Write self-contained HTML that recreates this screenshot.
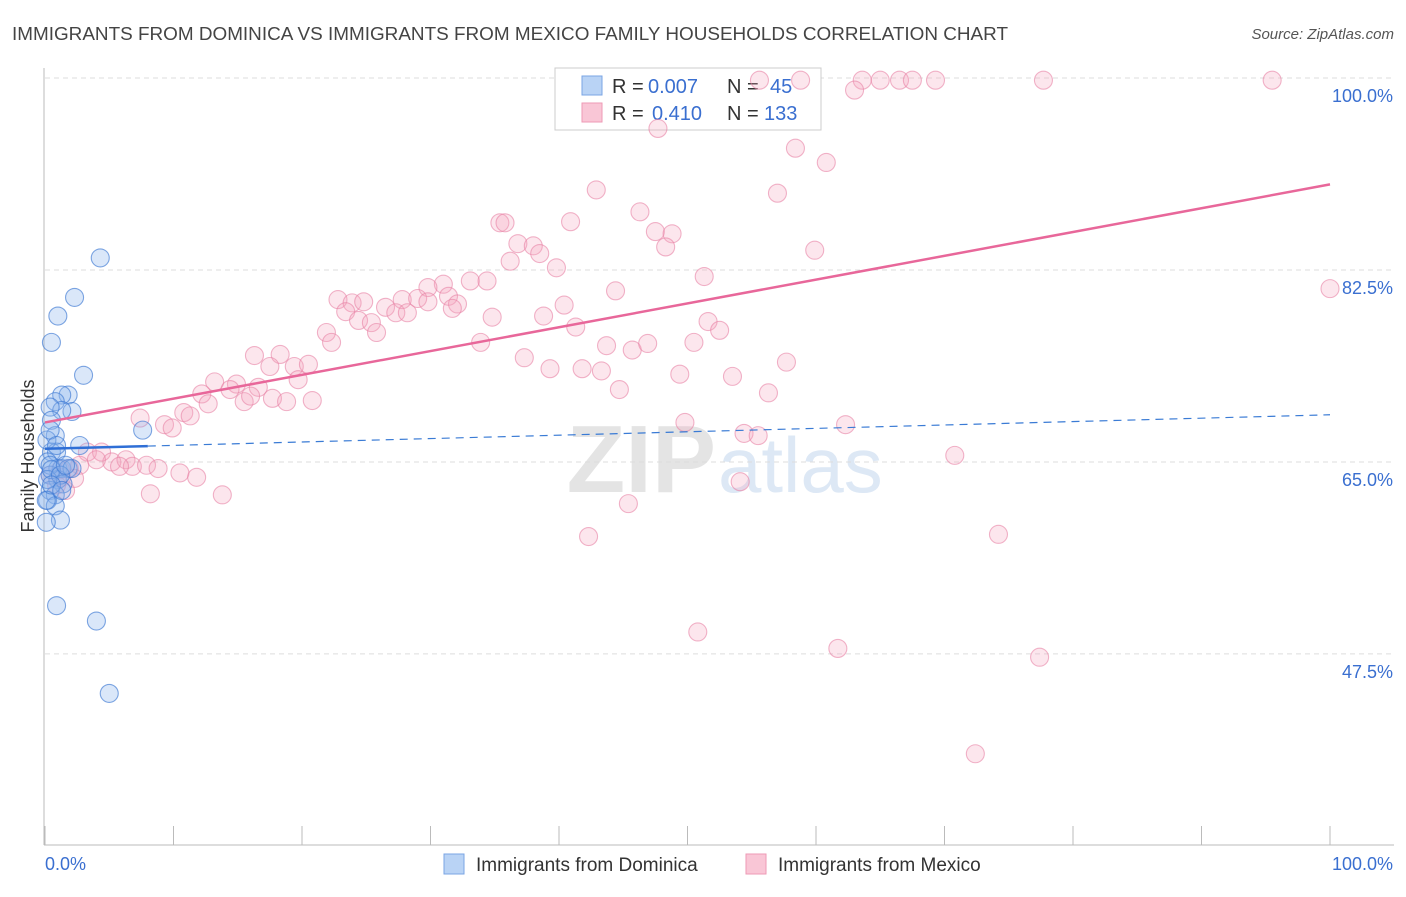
<!DOCTYPE html>
<html><head><meta charset="utf-8"><style>
body{margin:0;background:#fff;font-family:"Liberation Sans",sans-serif;}
svg text{font-family:"Liberation Sans",sans-serif;}
</style></head><body>
<svg id="chart" width="1406" height="892" viewBox="0 0 1406 892" xmlns="http://www.w3.org/2000/svg">
<text x="12" y="40" font-size="18" fill="#444" textLength="996" lengthAdjust="spacingAndGlyphs">IMMIGRANTS FROM DOMINICA VS IMMIGRANTS FROM MEXICO FAMILY HOUSEHOLDS CORRELATION CHART</text>
<text x="1394" y="39" font-size="15" fill="#555" text-anchor="end" font-style="italic">Source: ZipAtlas.com</text>
<text x="716" y="492" font-size="96" fill="#e4e4e4" text-anchor="end" font-family="Liberation Serif" font-weight="bold">ZIP</text>
<text x="718" y="492" font-size="78" fill="#dde8f5">atlas</text>
<g id="grid"></g>
<g id="axes"></g>
<g>
<rect x="555" y="68" width="266" height="62" fill="#fff" stroke="#ccc"/>
<rect x="582" y="76" width="20" height="19" fill="#b9d3f5" stroke="#7aa5e4"/>
<rect x="582" y="103" width="20" height="19" fill="#f9c6d6" stroke="#ee9ab5"/>
<text x="612" y="93" font-size="20" fill="#333">R =</text>
<text x="648" y="93" font-size="20" fill="#3a6fd0">0.007</text>
<text x="727" y="93" font-size="20" fill="#333">N =</text>
<text x="770" y="93" font-size="20" fill="#3a6fd0">45</text>
<text x="612" y="120" font-size="20" fill="#333">R =</text>
<text x="652" y="120" font-size="20" fill="#3a6fd0">0.410</text>
<text x="727" y="120" font-size="20" fill="#333">N =</text>
<text x="764" y="120" font-size="20" fill="#3a6fd0">133</text>
</g>
<g id="pts"></g>
<g id="lines"></g>
<text transform="translate(34,456) rotate(-90)" font-size="18" fill="#333" text-anchor="middle">Family Households</text>
<g>
<rect x="444" y="854" width="20" height="20" fill="#b9d3f5" stroke="#7aa5e4"/>
<text x="476" y="871" font-size="19" fill="#333">Immigrants from Dominica</text></g>
<g>
<rect x="746" y="854" width="20" height="20" fill="#f9c6d6" stroke="#ee9ab5"/>
<text x="778" y="871" font-size="19" fill="#333">Immigrants from Mexico</text></g>
</svg>
<script>
const yTicks=[100,82.5,65,47.5];
const yTickLabels=["100.0%","82.5%","65.0%","47.5%"];
const xTickLabels=["0.0%","100.0%"];
const blueX=[4.3,2.3,1.0,0.5,3.0,1.8,1.3,0.8,2.1,1.3,0.4,0.5,0.8,2.7,7.6,0.5,0.9,0.2,1.0,1.3,1.8,2.1,0.4,1.0,1.4,0.4,0.8,0.2,0.8,1.2,0.1,0.9,4.0,5.0,0.4,0.2,0.5,1.2,1.6,0.15,0.4,0.9,0.1,0.5,1.3];
const blueY=[83.6,80.0,78.3,75.9,72.9,71.1,71.1,70.5,69.6,69.7,70.0,68.8,67.4,66.5,67.9,65.9,65.9,65.0,64.4,64.4,64.4,64.4,63.8,63.4,63.0,62.4,62.0,61.5,61.0,59.7,59.5,51.9,50.5,43.9,64.7,63.4,64.3,63.8,64.7,67.0,67.9,66.5,61.5,62.9,62.4];
const pinkX=[55.6,58.8,63.6,65.0,66.5,67.5,69.3,77.7,95.5,63.0,47.7,58.4,60.8,42.9,57.0,46.3,40.9,35.4,35.8,47.5,48.8,48.3,36.8,38.0,38.5,36.2,39.8,59.9,51.3,44.4,33.1,31.0,34.4,29.8,100,22.8,23.9,24.8,26.5,27.8,29.0,29.8,31.4,32.1,31.7,23.4,24.4,25.4,27.3,28.2,25.8,21.9,22.3,34.8,38.8,40.4,41.3,51.6,52.5,33.9,43.7,45.7,46.9,50.5,57.7,16.3,18.3,17.5,19.4,20.5,19.7,37.3,39.3,41.8,43.3,49.4,53.5,44.7,56.3,13.2,14.9,16.6,14.4,12.2,12.7,15.5,16.0,17.7,18.8,20.8,7.4,10.8,11.3,9.3,9.9,49.8,54.4,55.5,62.3,45.4,54.1,70.8,42.3,74.2,50.8,61.7,77.4,72.4,3.3,4.4,5.2,6.3,6.8,7.9,8.8,10.5,11.8,5.8,4.0,1.9,2.7,1.3,1.6,1.2,2.3,8.2,13.8,0.4,0.9];
const pinkY=[99.8,99.8,99.8,99.8,99.8,99.8,99.8,99.8,99.8,98.9,95.4,93.6,92.3,89.8,89.5,87.8,86.9,86.8,86.8,86.0,85.8,84.6,84.9,84.7,84.0,83.3,82.7,84.3,81.9,80.6,81.5,81.2,81.5,80.9,80.8,79.8,79.5,79.6,79.1,79.8,79.9,79.6,80.1,79.4,79.0,78.7,77.9,77.7,78.6,78.6,76.8,76.8,75.9,78.2,78.3,79.3,77.3,77.8,77.0,75.9,75.6,75.2,75.8,75.9,74.1,74.7,74.8,73.7,73.7,73.9,72.5,74.5,73.5,73.5,73.3,73.0,72.8,71.6,71.3,72.3,72.1,71.8,71.6,71.2,70.3,70.5,71.0,70.8,70.5,70.6,69.0,69.5,69.2,68.4,68.1,68.6,67.6,67.4,68.4,61.2,63.2,65.6,58.2,58.4,49.5,48.0,47.2,38.4,65.9,65.9,65.0,65.2,64.6,64.7,64.4,64.0,63.6,64.6,65.2,64.4,64.7,63.6,62.4,64.3,63.5,62.1,62.0,63.8,62.9];
const pinkLine=[68.6,90.3];
const blueLine=[66.2,69.3];
const blueSolidEnd=8;
const X=v=>45+v*12.85, Y=v=>78+(100-v)*10.97;
const NS="http://www.w3.org/2000/svg";
function mk(p,t,a){const e=document.createElementNS(NS,t);for(const k in a)e.setAttribute(k,a[k]);document.getElementById(p).appendChild(e);return e;}
yTicks.forEach((t,i)=>{
 const g=mk('grid','line',{x1:45,x2:1394,y1:Y(t),y2:Y(t),stroke:'#ddd','stroke-dasharray':'5,4'});
 
 
 const l=mk('axes','text',{x:1393,y:Y(t)+24,'font-size':18,fill:'#3a6fd0','text-anchor':'end'});
 l.textContent=yTickLabels[i];
 
 
});
const ax=mk('axes','line',{x1:44,x2:1394,y1:845,y2:845,stroke:'#bbb'});


const ay=mk('axes','line',{x1:44,x2:44,y1:68,y2:845,stroke:'#bbb'});


for(let i=0;i<=10;i++){const t=mk('axes','line',{x1:X(i*10),x2:X(i*10),y1:826,y2:845,stroke:'#bbb'});
 
 }
[[0,'start',45],[100,'end',1393]].forEach((d,i)=>{const t=mk('axes','text',{x:d[2],y:870,'font-size':18,fill:'#3a6fd0','text-anchor':d[1]});
 t.textContent=xTickLabels[i];
 
 });
pinkX.forEach((x,i)=>{const c=mk('pts','circle',{cx:X(x),cy:Y(pinkY[i]),r:9,fill:'rgba(245,165,192,0.28)',stroke:'rgba(232,130,165,0.6)','stroke-width':1.1});
 
 });
blueX.forEach((x,i)=>{const c=mk('pts','circle',{cx:X(x),cy:Y(blueY[i]),r:9,fill:'rgba(140,180,235,0.32)',stroke:'rgba(60,120,210,0.65)','stroke-width':1.1});
 
 });
const pl=mk('lines','line',{x1:X(0),y1:Y(pinkLine[0]),x2:X(100),y2:Y(pinkLine[1]),stroke:'#e8679a','stroke-width':2.5});


const bAt=v=>blueLine[0]+(blueLine[1]-blueLine[0])*v/100;
const bd=mk('lines','line',{x1:X(blueSolidEnd),y1:Y(bAt(blueSolidEnd)),x2:X(100),y2:Y(blueLine[1]),stroke:'#3a7bd5','stroke-width':1.2,'stroke-dasharray':'8,6'});


const bs=mk('lines','line',{x1:X(0),y1:Y(blueLine[0]),x2:X(blueSolidEnd),y2:Y(bAt(blueSolidEnd)),stroke:'#2f6fd6','stroke-width':2.5});


</script>
</body></html>
